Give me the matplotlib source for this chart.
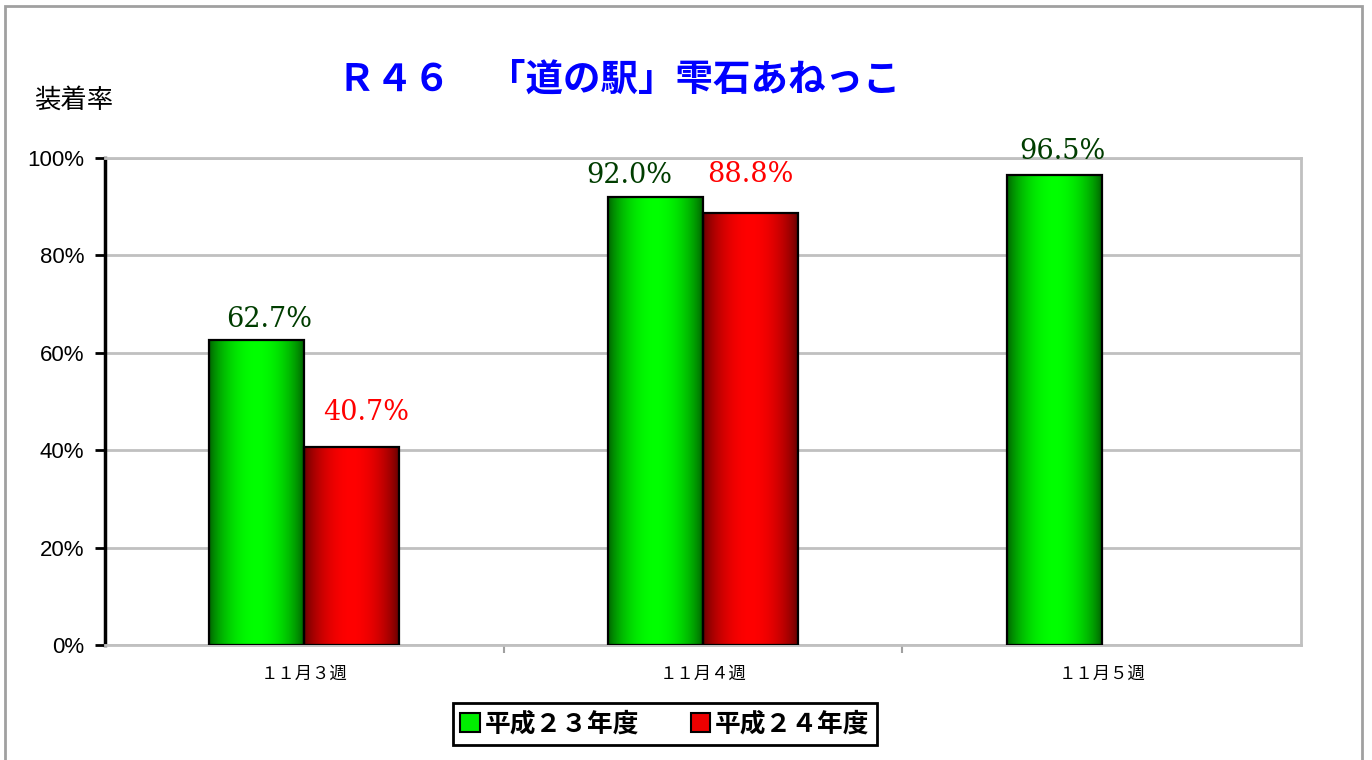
import matplotlib
matplotlib.use("Agg")
import matplotlib.pyplot as plt
import numpy as np
from matplotlib.patches import Patch, Rectangle

plt.rcParams["font.family"] = ["Noto Sans CJK JP", "DejaVu Sans"]

weeks = ["１１月３週", "１１月４週", "１１月５週"]
series_names = ["平成２３年度", "平成２４年度"]
h23 = [62.7, 92.0, 96.5]
h24 = [40.7, 88.8, None]

title = "Ｒ４６　「道の駅」雫石あねっこ"
ylabel = "装着率"

fig = plt.figure(figsize=(13.72, 7.6), dpi=100)
fig.patches.append(Rectangle((5 / 1372, -0.01), 1357 / 1372, 1.01 - 6 / 760,
                             transform=fig.transFigure, fill=False,
                             edgecolor="#a0a0a0", lw=2))
ax = fig.add_axes([105 / 1372, 1 - 645 / 760, 1196 / 1372, 487 / 760])

width = 0.238
x = np.arange(len(weeks))


def gradient_bar(ax, xc, h, dark, bright):
    bar = ax.bar(xc, h, width, facecolor="none", edgecolor="black", lw=1.6, zorder=3)[0]
    t = np.linspace(0, 1, 128)
    w = np.sin(np.pi * t) ** 0.7
    img = np.array(dark)[None, :] + (np.array(bright) - np.array(dark))[None, :] * w[:, None]
    im = ax.imshow(img[None, :, :], extent=[xc - width / 2, xc + width / 2, 0, h],
                   aspect="auto", interpolation="bilinear", zorder=2)
    im.set_clip_path(bar)
    return bar


green_dark, green_bright = (0.0, 0.36, 0.0), (0.0, 1.0, 0.0)
red_dark, red_bright = (0.38, 0.0, 0.0), (1.0, 0.0, 0.0)

# label offsets in points (dx, dy)
g_off = [(9, 5), (-19, 6), (6, 7)]
r_off = [(10, 15), (0, 18)]

for i, v in enumerate(h23):
    gradient_bar(ax, x[i] - width / 2, v, green_dark, green_bright)
    ax.annotate(f"{v:.1f}%", (x[i] - width / 2, v), xytext=g_off[i], textcoords="offset points",
                ha="center", va="bottom", fontsize=19.5, color="#003d00", family="DejaVu Serif")
for i, v in enumerate(h24):
    if v is None:
        continue
    gradient_bar(ax, x[i] + width / 2, v, red_dark, red_bright)
    ax.annotate(f"{v:.1f}%", (x[i] + width / 2, v), xytext=r_off[i], textcoords="offset points",
                ha="center", va="bottom", fontsize=19.5, color="#ff0000", family="DejaVu Serif")

ax.set_xlim(-0.5, 2.5)
ax.set_ylim(0, 100)
ax.set_yticks(np.arange(0, 101, 20))
ax.set_yticklabels([f"{v}%" for v in range(0, 101, 20)], family="Liberation Sans", fontsize=16)
ax.yaxis.grid(True, color="#c0c0c0", lw=2)
ax.set_axisbelow(True)
ax.tick_params(axis="y", length=7, width=2, direction="out", color="black", pad=8)

ax.set_xticks(x)
ax.set_xticklabels(weeks, fontsize=12.5)
ax.set_xticks([0.5, 1.5], minor=True)
ax.tick_params(axis="x", which="major", length=0, pad=14)
ax.tick_params(axis="x", which="minor", length=6, width=1.5, color="#a0a0a0")

ax.spines["left"].set_color("black")
ax.spines["left"].set_linewidth(2.5)
for s in ["right", "top", "bottom"]:
    ax.spines[s].set_color("#c0c0c0")
    ax.spines[s].set_linewidth(2)

fig.text(619 / 1372, 1 - 79 / 760, title, ha="center", va="center",
         fontsize=27, fontweight="bold", color="#0000ff")
fig.text(74 / 1372, 1 - 100 / 760, ylabel, ha="center", va="center", fontsize=19)

handles = [Patch(facecolor="#00ee00", edgecolor="black", lw=1.5),
           Patch(facecolor="#ee0000", edgecolor="black", lw=1.5)]
leg = fig.legend(handles, series_names, loc="center", bbox_to_anchor=(665 / 1372, 1 - 724 / 760),
                 ncol=2, fancybox=False, edgecolor="black", framealpha=1,
                 prop={"size": 18.5, "weight": "bold"}, handlelength=0.75, handleheight=0.75,
                 handletextpad=0.2, columnspacing=2.0, borderpad=0.3)
leg.get_frame().set_linewidth(2)

fig.savefig("out.png", dpi=100)
